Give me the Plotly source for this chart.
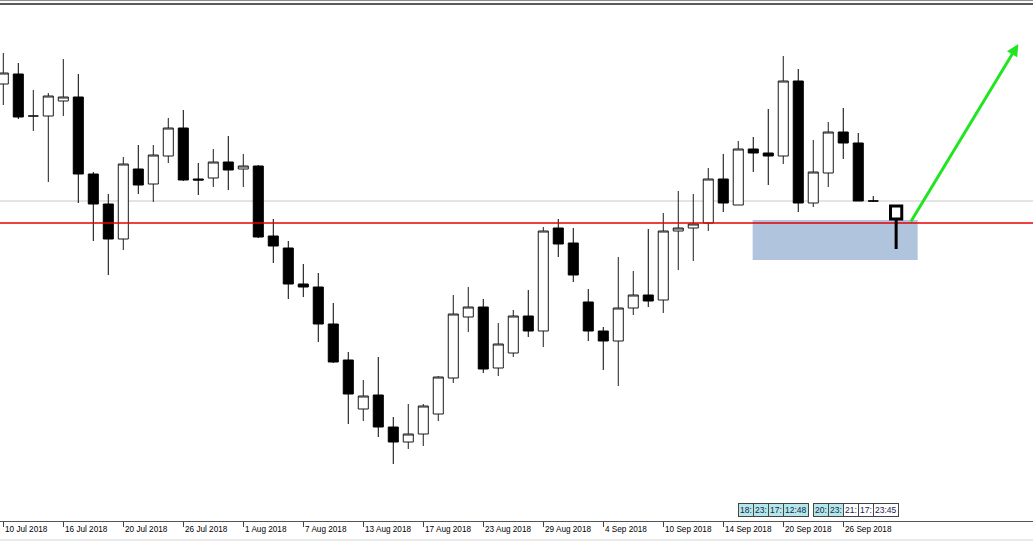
import plotly.graph_objects as go

# ---- data (daily candles, 10 Jul 2018 .. 28 Sep 2018) ----
idx = list(range(59))
opens = [1.3416, 1.3426, 1.3384, 1.3384, 1.3399, 1.3403, 1.3326, 1.3296, 1.3261, 1.3331,
         1.3316, 1.3344, 1.3372, 1.3321, 1.3322, 1.3338, 1.3331, 1.3334, 1.3264, 1.3252,
         1.3216, 1.3213, 1.3176, 1.3140, 1.3091, 1.3105, 1.3073, 1.3058, 1.3066, 1.3086,
         1.3122, 1.3183, 1.3193, 1.3132, 1.3147, 1.3184, 1.3169, 1.3272, 1.3257, 1.3198,
         1.3169, 1.3159, 1.3192, 1.3205, 1.3200, 1.3269, 1.3272, 1.3277, 1.3321, 1.3295,
         1.3351, 1.3347, 1.3344, 1.3419, 1.3297, 1.3327, 1.3368, 1.3357, 1.3299]
highs = [1.3447, 1.3437, 1.3410, 1.3407, 1.3441, 1.3426, 1.3328, 1.3306, 1.3343, 1.3355,
         1.3355, 1.3382, 1.3390, 1.3337, 1.3351, 1.3364, 1.3346, 1.3335, 1.3281, 1.3259,
         1.3236, 1.3227, 1.3197, 1.3148, 1.3120, 1.3143, 1.3083, 1.3096, 1.3096, 1.3124,
         1.3205, 1.3213, 1.3201, 1.3177, 1.3190, 1.3210, 1.3273, 1.3281, 1.3272, 1.3211,
         1.3173, 1.3243, 1.3229, 1.3271, 1.3287, 1.3309, 1.3306, 1.3332, 1.3346, 1.3359,
         1.3363, 1.3391, 1.3444, 1.3431, 1.3360, 1.3378, 1.3392, 1.3367, 1.3304]
lows = [1.3395, 1.3381, 1.3369, 1.3318, 1.3384, 1.3297, 1.3259, 1.3225, 1.3250, 1.3306,
        1.3298, 1.3337, 1.3319, 1.3305, 1.3313, 1.3310, 1.3313, 1.3262, 1.3237, 1.3201,
        1.3203, 1.3158, 1.3137, 1.3076, 1.3079, 1.3063, 1.3036, 1.3051, 1.3054, 1.3079,
        1.3117, 1.3168, 1.3127, 1.3124, 1.3143, 1.3163, 1.3153, 1.3243, 1.3218, 1.3159,
        1.3130, 1.3114, 1.3185, 1.3193, 1.3187, 1.3230, 1.3239, 1.3269, 1.3288, 1.3295,
        1.3328, 1.3315, 1.3336, 1.3288, 1.3293, 1.3313, 1.3341, 1.3299, 1.3298]
closes = [1.3427, 1.3383, 1.3384, 1.3404, 1.3403, 1.3326, 1.3296, 1.3261, 1.3336, 1.3315,
          1.3345, 1.3372, 1.3320, 1.3320, 1.3338, 1.3330, 1.3334, 1.3263, 1.3254, 1.3216,
          1.3213, 1.3176, 1.3138, 1.3106, 1.3104, 1.3073, 1.3058, 1.3066, 1.3094, 1.3123,
          1.3186, 1.3193, 1.3131, 1.3156, 1.3184, 1.3169, 1.3269, 1.3256, 1.3225, 1.3169,
          1.3159, 1.3192, 1.3205, 1.3199, 1.3269, 1.3272, 1.3276, 1.3321, 1.3297, 1.3351,
          1.3347, 1.3344, 1.3419, 1.3297, 1.3328, 1.3368, 1.3357, 1.3299, 1.3299]

tick_idx = [0, 4, 8, 12, 16, 20, 24, 28, 32, 36, 40, 44, 48, 52, 56]
tick_labels = ["10 Jul 2018", "16 Jul 2018", "20 Jul 2018", "26 Jul 2018", "1 Aug 2018",
               "7 Aug 2018", "13 Aug 2018", "17 Aug 2018", "23 Aug 2018", "29 Aug 2018",
               "4 Sep 2018", "10 Sep 2018", "14 Sep 2018", "20 Sep 2018", "26 Sep 2018"]

# horizontal levels
support_level = 1.3277
bid_level = 1.3299
# demand zone
zone_x = [49.96, 60.96]
zone_y = [1.3240, 1.3280]
# projected candle (drawing)
proj_x = [59.15, 59.9]
proj_open = 1.3281
proj_close = 1.3294
proj_low = 1.3251
# arrow (tail -> head)
arrow_x = [60.45, 67.67]
arrow_y = [1.3277, 1.3456]

# time labels of objects
label_idx = [49, 50, 51, 52, 54, 55, 56, 57, 58]
label_txt = ["18:", "23:", "17:", "12:48", "20:", "23:", "21:", "17:", "23:45"]
label_fill = ["#B4E8E8"] * 6 + ["#FFFFFF"] * 3

fig = go.Figure()
fig.add_trace(go.Candlestick(
    x=idx, open=opens, high=highs, low=lows, close=closes,
    increasing=dict(fillcolor="white", line=dict(color="#1a1a1a", width=1)),
    decreasing=dict(fillcolor="black", line=dict(color="black", width=1)),
    whiskerwidth=0, showlegend=False, hoverinfo="skip"))

shapes = []
# bid line (below candles)
shapes.append(dict(type="line", xref="paper", x0=0, x1=1, yref="y", y0=bid_level, y1=bid_level,
                   line=dict(color="#C8C8C8", width=1), layer="below"))
# zone
shapes.append(dict(type="rect", xref="x", yref="y", x0=zone_x[0], x1=zone_x[1],
                   y0=zone_y[0], y1=zone_y[1], fillcolor="#B0C4DE", line=dict(width=0),
                   layer="below"))
# red support line
shapes.append(dict(type="line", xref="paper", x0=0, x1=1, yref="y", y0=support_level,
                   y1=support_level, line=dict(color="#E80000", width=1.6), layer="above"))
# projected candle
xm = (proj_x[0] + proj_x[1]) / 2
shapes.append(dict(type="line", xref="x", yref="y", x0=xm, x1=xm, y0=proj_low, y1=proj_open,
                   line=dict(color="black", width=3), layer="above"))
shapes.append(dict(type="rect", xref="x", yref="y", x0=proj_x[0], x1=proj_x[1],
                   y0=proj_open, y1=proj_close, fillcolor="white",
                   line=dict(color="black", width=3), layer="above"))
# window frame lines
shapes.append(dict(type="line", xref="paper", yref="paper", x0=0, x1=1, y0=1.0125, y1=1.0125,
                   line=dict(color="#888888", width=1)))
shapes.append(dict(type="line", xref="paper", yref="paper", x0=0, x1=1, y0=1.0058, y1=1.0058,
                   line=dict(color="#222222", width=1.5)))
shapes.append(dict(type="line", xref="paper", yref="paper", x0=0, x1=1, y0=-0.037, y1=-0.037,
                   line=dict(color="#D4D4D4", width=1)))

annotations = []
for t, lab in zip(tick_idx, tick_labels):
    annotations.append(dict(x=t, y=0, xref="x", yref="paper", text=lab, showarrow=False,
                            xanchor="left", yanchor="top", yshift=-2, xshift=0,
                            font=dict(family="Liberation Sans", size=8.2, color="black")))
for i, txt, fc in zip(label_idx, label_txt, label_fill):
    w = 22 if len(txt) > 3 else 12
    annotations.append(dict(x=i, y=0.0214, xref="x", yref="paper", text=txt, showarrow=False,
                            xanchor="left", yanchor="middle", align="left", width=w,
                            bgcolor=fc, bordercolor="#444444", borderwidth=1, borderpad=1,
                            font=dict(family="Liberation Sans", size=8.5, color="#1a1a50")))
annotations.append(dict(x=arrow_x[1], y=arrow_y[1], ax=arrow_x[0], ay=arrow_y[0],
                        xref="x", yref="y", axref="x", ayref="y", showarrow=True,
                        arrowhead=2, arrowsize=0.8, arrowwidth=3, arrowcolor="#22E522", text=""))

fig.update_layout(
    width=1033, height=542,
    margin=dict(l=0, r=0, t=7, b=21),
    paper_bgcolor="white", plot_bgcolor="white",
    boxgap=0.33, boxgroupgap=0,
    shapes=shapes, annotations=annotations,
    xaxis=dict(range=[-0.22, 68.65], rangeslider=dict(visible=False), showgrid=False,
               zeroline=False, tickvals=tick_idx, showticklabels=False, ticks="outside",
               ticklen=5, tickcolor="#444444", showline=True, linecolor="#555555", linewidth=1),
    yaxis=dict(range=[1.2979, 1.3493], visible=False, showgrid=False, zeroline=False),
    hovermode=False,
)

fig.write_html("out.html", config={"displayModeBar": False},
               post_script="document.body.style.margin='0px';document.body.style.overflow='hidden';")
